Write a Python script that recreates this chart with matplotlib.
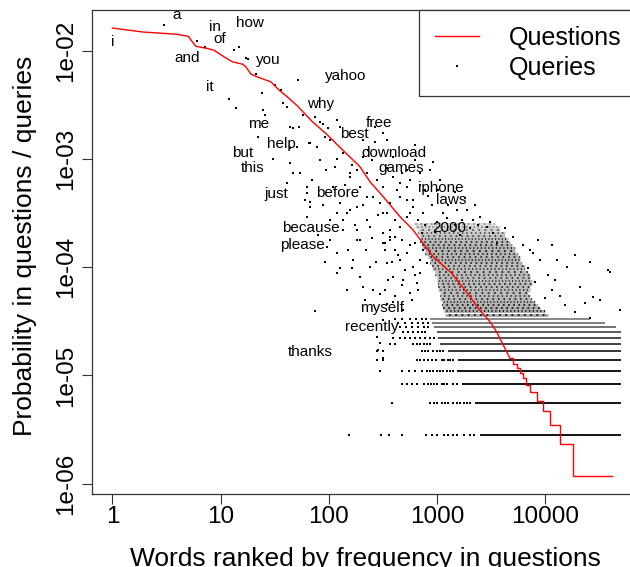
import matplotlib
matplotlib.use("Agg")
import matplotlib.pyplot as plt
from matplotlib.lines import Line2D
from matplotlib.ticker import NullLocator

plt.rcParams['font.family'] = ['Liberation Sans', 'DejaVu Sans']
plt.rcParams['lines.scale_dashes'] = False

# ---------------------------------------------------------------
# Questions: rank / probability curve
# ---------------------------------------------------------------
q_rank = [1, 1.9, 3.9, 5.0, 5.9, 7.5, 8.7, 10.8, 12.9, 16, 17.1, 19.1, 21.8,
          29.2, 34.8, 43, 51.4, 70.7, 94, 134, 194, 240, 318, 455, 600, 923,
          1365, 1813, 2493, 3084, 3556, 4093, 4720]
q_prob = [0.0162, 0.0149, 0.0142, 0.0136, 0.0110, 0.0105, 0.0101, 0.00877,
          0.00788, 0.0075, 0.0071, 0.00607, 0.00573, 0.00515, 0.00432, 0.00362,
          0.00308, 0.0022, 0.00172, 0.00121, 0.000848, 0.000617, 0.000448,
          0.000293, 0.000221, 0.000125, 8.8e-5, 6.15e-5, 4.0e-5, 3.14e-5,
          2.53e-5, 1.91e-5, 1.44e-5]
# tail of the curve, where counts become small integers (staircase)
step_rank = [4720, 5060, 5450, 5840, 6200, 6600, 7220, 8330, 9590, 11050,
             13660, 18150, 41000]
step_prob = [1.44e-5, 1.29e-5, 1.17e-5, 1.05e-5, 9.4e-6, 8.2e-6, 7.0e-6,
             5.85e-6, 4.7e-6, 3.5e-6, 2.34e-6, 1.17e-6, 1.17e-6]

# ---------------------------------------------------------------
# Queries: low count levels (solid rows of points)
# ---------------------------------------------------------------
lvl_prob = [2.79e-6, 5.57e-6, 8.36e-6, 1.11e-5, 1.39e-5, 1.67e-5, 1.95e-5,
            2.23e-5, 2.51e-5, 2.79e-5, 3.06e-5, 3.34e-5]
lvl_start = [2493, 2240, 1690, 1520, 1550, 1260, 1065, 1015, 990, 930, 890, 861]
lvl_end = [50000, 50000, 50000, 50000, 50000, 50000, 50000, 50000, 50000,
           45000, 36000, 26000]
lvl_density = [1, 1, 1, 1, 0.95, 0.85, 0.8, 0.75, 0.7, 0.6, 0.55, 0.5]
# isolated points on each level, left of the solid run
lvl_dots = [
    [154, 305, 361, 476, 795, 902, 990, 1170, 1270, 1410, 1540, 1760, 2015, 2190],
    [387, 861, 930, 990, 1120, 1190, 1260, 1410, 1520, 1630, 1760, 1880, 2015],
    [470, 525, 585, 650, 750, 825, 880, 940, 1000, 1110, 1170, 1230, 1410, 1520],
    [297, 470, 545, 625, 720, 805, 861, 920, 1000, 1065, 1130, 1230, 1318, 1410],
    [277, 319, 650, 697, 755, 825, 898, 985, 1100, 1160, 1260, 1318, 1410],
    [277, 319, 720, 774, 825, 920, 1000, 1065, 1130],
    [367, 409, 604, 650, 697, 755, 805, 861],
    [394, 455, 505, 562, 626, 697, 774, 861, 930],
    [487, 540, 600, 671, 726, 774],
    [455, 515, 585, 671, 755, 825],
    [437, 505, 585, 671, 740, 825],
    [409, 474, 562, 640, 726, 790],
]

# Queries: dense core of the cloud (rows of many points)
core_prob = [2.51e-4, 2.35e-4, 2.21e-4, 2.07e-4, 1.94e-4, 1.82e-4, 1.71e-4,
             1.60e-4, 1.50e-4, 1.41e-4, 1.32e-4, 1.24e-4, 1.16e-4, 1.09e-4,
             1.03e-4, 9.6e-5, 9.0e-5, 8.5e-5, 7.9e-5, 7.4e-5, 7.0e-5, 6.6e-5,
             6.15e-5, 5.77e-5, 5.4e-5, 5.1e-5, 4.8e-5, 4.5e-5, 4.2e-5, 3.9e-5,
             3.62e-5]
core_start = [626, 626, 667, 667, 697, 697, 697, 726, 726, 774, 774, 825, 861,
              861, 898, 898, 957, 957, 1000, 1000, 1020, 1020, 1020, 1065, 1065,
              1065, 1110, 1110, 1130, 1160, 1180]
core_end = [3430, 3814, 3814, 4250, 4250, 4520, 4720, 4920, 5250, 5250, 5600,
            5836, 5836, 6100, 6500, 6500, 6920, 7220, 7220, 7530, 7530, 7220,
            7220, 6920, 7220, 7530, 8030, 8570, 8930, 9930, 10600]
core_density = [0.25, 0.3, 0.35, 0.4, 0.45, 0.5, 0.5, 0.55, 0.55, 0.55, 0.55,
                0.55, 0.55, 0.5, 0.5, 0.5, 0.5, 0.5, 0.5, 0.5, 0.5, 0.5, 0.5,
                0.5, 0.5, 0.55, 0.55, 0.55, 0.6, 0.6, 0.6]

# Queries: scattered points of the cloud
cloud_rank = [3.0, 6.0, 7.2, 13.3, 14.9, 17.1, 17.9, 21.1, 24, 31.8,
              36, 52, 12, 13.8, 24.8, 25.7, 38, 40.8, 43.8, 47,
              53.4, 58, 74.6, 83, 89, 99, 118, 22.3, 43.8, 50.5,
              67, 77, 92, 103, 30.7, 43.8, 47, 40.8, 54, 118,
              114, 136, 157, 181, 208, 249, 267, 319, 60, 62.5,
              67, 89, 103, 118, 146, 181, 194, 224, 136, 103,
              181, 240, 319, 367, 424, 471, 524, 343, 394, 319,
              367, 455, 562, 604, 96, 118, 65, 83, 62.5, 67,
              110, 127, 157, 208, 136, 175, 62.5, 224, 258, 297,
              343, 367, 409, 330, 455, 394, 524, 604, 455, 524,
              671, 747, 923, 893, 1142, 1518, 1879, 2163, 2493, 2877,
              3310, 127, 208, 343, 267, 157, 224, 524, 695, 277,
              319, 39550, 20900, 15770, 12740, 7220, 5060, 3556, 27700, 48900,
              38200, 7700, 118, 127, 167, 194, 240, 297, 343, 392,
              256, 146, 208, 316, 277, 297, 285, 316, 74.6, 330,
              380, 437, 505, 562, 355, 474, 409, 587, 671, 480,
              626, 697, 273, 221, 182, 251, 8930, 10600, 8030, 11530,
              13660, 9930, 6920, 6220, 8570, 15200, 18800, 25860, 32000, 23300,
              12300, 4250, 774, 1000, 1236, 1465, 1700, 2015, 2415, 3084,
              957, 1630, 1262, 825, 1020, 1465, 1813, 2240, 697, 625,
              319, 367, 409, 343, 455, 524, 604, 394, 487, 650,
              330, 562, 697, 747, 805, 470, 626, 720, 70, 94,
              141, 164, 230, 284, 409, 194, 150, 80, 92, 164,
              215, 562, 774, 1065, 861, 625, 11600, 18800, 25860]
cloud_prob = [0.0173, 0.0124, 0.0109, 0.0101, 0.0109, 0.0086, 0.0084, 0.0061, 0.0041, 0.0048,
              0.00434, 0.00536, 0.00358, 0.00294, 0.00283, 0.00255, 0.00327, 0.00304, 0.00199, 0.00192,
              0.00199, 0.00255, 0.00243, 0.00221, 0.0021, 0.00192, 0.00229, 0.0016, 0.00125, 0.0013,
              0.0014, 0.0013, 0.0016, 0.0015, 0.00099, 0.00091, 0.00074, 0.000595, 0.00074, 0.00101,
              0.00085, 0.00113, 0.00074, 0.00079, 0.00105, 0.00098, 0.00144, 0.00173, 0.000418, 0.000482,
              0.000362, 0.000376, 0.000273, 0.000315, 0.000315, 0.000362, 0.000555, 0.000448, 0.000221, 0.000178,
              0.000221, 0.000237, 0.000315, 0.000389, 0.000517, 0.00074, 0.000555, 0.00082, 0.00105, 0.000206,
              0.000178, 0.000237, 0.000315, 0.000418, 0.000155, 0.000134, 0.0014, 0.00098, 0.000555, 0.000403,
              0.000555, 0.000389, 0.000338, 0.000376, 0.000273, 0.000245, 0.000293, 0.000273, 0.000448, 0.000389,
              0.000315, 0.000221, 0.000191, 0.000166, 0.000595, 0.000685, 0.000418, 0.000362, 0.000448, 0.000293,
              0.000273, 0.000315, 0.000944, 0.000376, 0.000315, 0.000338, 0.000338, 0.000273, 0.000293, 0.000237,
              0.000206, 0.00199, 0.0015, 0.0015, 0.00199, 0.000685, 0.00074, 0.00079, 0.00074, 0.00064,
              0.000555, 9.1e-5, 6.6e-5, 1.01e-4, 1.16e-4, 1.44e-4, 1.91e-4, 1.66e-4, 5.3e-5, 4.0e-5,
              9.4e-5, 1.35e-4, 8.8e-5, 9.8e-5, 1.16e-4, 8.2e-5, 1.01e-4, 5.7e-5, 4.6e-5, 4.8e-5,
              6.2e-5, 6.2e-5, 6.6e-5, 3.25e-5, 2.28e-5, 1.98e-5, 1.72e-5, 1.45e-5, 3.9e-5, 1.44e-4,
              1.12e-4, 1.30e-4, 9.4e-5, 1.6e-4, 7.6e-5, 6.85e-5, 5.4e-5, 5.0e-5, 6.2e-5, 4.0e-5,
              8.5e-5, 1.17e-4, 1.12e-4, 1.44e-4, 1.78e-4, 1.86e-4, 1.17e-4, 8.5e-5, 7.3e-5, 6.2e-5,
              5.4e-5, 5.2e-5, 9.8e-5, 1.6e-4, 1.78e-4, 4.48e-5, 3.86e-5, 3.4e-5, 5.0e-5, 4.68e-5,
              7.6e-5, 2.3e-4, 2.45e-4, 2.6e-4, 2.85e-4, 2.45e-4, 2.73e-4, 2.3e-4, 2.45e-4, 2.6e-4,
              2.11e-4, 1.98e-4, 3.75e-4, 4.55e-4, 5.17e-4, 4.95e-4, 4.35e-4, 3.75e-4, 5.74e-4, 9.8e-4,
              1.66e-4, 1.91e-4, 1.44e-4, 1.09e-4, 1.16e-4, 1.35e-4, 1.01e-4, 8.2e-5, 7.6e-5, 7.1e-5,
              6.2e-5, 5.8e-5, 8.8e-5, 1.44e-4, 1.09e-4, 1.78e-4, 1.66e-4, 2.06e-4, 6.4e-4, 7.9e-4,
              5.74e-4, 8.8e-4, 1.21e-3, 3.05e-4, 2.73e-4, 1.78e-4, 1.44e-4, 1.98e-4, 1.12e-4, 9.8e-5,
              5.0e-5, 6.4e-4, 5.17e-4, 6.4e-4, 7.9e-4, 1.35e-3, 1.6e-4, 1.30e-4, 1.12e-4]

# labelled words (placed at their query point)
words = ["i", "a", "in", "of", "how", "and", "you", "it", "yahoo", "why",
         "me", "free", "best", "help", "but", "download", "games", "this",
         "just", "before", "iphone", "laws", "because", "2000", "please",
         "myself", "recently", "thanks"]
word_rank = [1, 3.9, 8.9, 9.9, 18.7, 4.9, 27.6, 7.9, 142, 84.5,
             22.4, 290, 173, 36.1, 16, 402, 463, 19.7,
             32.5, 120, 1084, 1340, 68, 1294, 57,
             313, 250, 67]
word_prob = [0.0121, 0.0213, 0.0164, 0.0127, 0.018, 0.0086, 0.0082, 0.0046, 0.0058, 0.0032,
             0.0021, 0.00214, 0.0017, 0.00137, 0.00114, 0.00113, 0.00083, 0.00083,
             0.000475, 0.000488, 0.000535, 0.000418, 0.000232, 0.000229, 0.000161,
             4.2e-5, 2.8e-5, 1.64e-5]

series_names = ["Questions", "Queries"]
x_ticks = [1, 10, 100, 1000, 10000]
x_tick_labels = ["1", "10", "100", "1000", "10000"]
y_ticks = [1e-6, 1e-5, 1e-4, 1e-3, 1e-2]
y_tick_labels = ["1e-06", "1e-05", "1e-04", "1e-03", "1e-02"]

# ---------------------------------------------------------------
# plot
# ---------------------------------------------------------------
axis_col = '#333333'
# broken dot runs laid over a grey base so the dense rows look speckled
speckle = [(0.0, (1.2, 2.6)), (0.9, (0.9, 1.8)), (1.7, (1.4, 3.1)),
           (0.4, (1.0, 2.2)), (2.3, (1.1, 2.9)), (1.2, (0.8, 1.6)),
           (0.6, (1.3, 2.4))]

fig = plt.figure(figsize=(6.3, 5.67), dpi=100)
ax = fig.add_axes([0.1465, 0.1293, 0.8725, 0.8536])
ax.set_xscale('log')
ax.set_yscale('log')
ax.set_xlim(10 ** -0.186, 10 ** 4.894)
ax.set_ylim(10 ** -6.092, 10 ** -1.621)

# queries
for i, (p, x0, x1, d) in enumerate(zip(core_prob, core_start, core_end, core_density)):
    ax.hlines(p, x0, x1, color='black', lw=2.1, alpha=0.55 * d, zorder=1)
    ax.hlines(p, x0, x1, color='black', lw=1.3, alpha=min(1.0, 1.5 * d),
              linestyles=[speckle[i % len(speckle)]], zorder=1)
for p, x0, x1, d in zip(lvl_prob, lvl_start, lvl_end, lvl_density):
    ax.hlines(p, x0, x1, color='black', lw=1.3, alpha=d, zorder=1)
for p, ranks in zip(lvl_prob, lvl_dots):
    ax.plot(ranks, [p] * len(ranks), 's', ms=1.5, mew=0, color='black', zorder=1)
ax.plot(cloud_rank, cloud_prob, 's', ms=1.5, mew=0, color='black', zorder=1)

# questions
ax.plot(q_rank, q_prob, color='red', lw=1.0, zorder=3)
ax.plot(step_rank, step_prob, color='red', lw=1.0, drawstyle='steps-post', zorder=3)

for w, r, p in zip(words, word_rank, word_prob):
    ax.text(r, p, w, ha='center', va='center', fontsize=11, zorder=4)

ax.set_xticks(x_ticks)
ax.set_xticklabels(x_tick_labels)
ax.set_yticks(y_ticks)
ax.set_yticklabels(y_tick_labels, rotation=90, va='center')
ax.xaxis.set_minor_locator(NullLocator())
ax.yaxis.set_minor_locator(NullLocator())
ax.tick_params(direction='out', length=7.2, width=0.8, color=axis_col, labelsize=17.5)
ax.tick_params(axis='y', pad=3.5)
ax.tick_params(axis='x', pad=1.5)
for s in ax.spines.values():
    s.set_color(axis_col)
    s.set_linewidth(0.9)

ax.set_xlabel("Words ranked by frequency in questions", fontsize=19)
ax.set_ylabel("Probability in questions / queries", fontsize=19)
ax.xaxis.label.set_va('center')
ax.xaxis.set_label_coords(0.497, -0.134)
ax.yaxis.label.set_va('center')
ax.yaxis.label.set_ha('center')
ax.yaxis.set_label_coords(-0.1224, 0.513)

handles = [Line2D([], [], color='red', lw=1.0),
           Line2D([], [], ls='none', marker='s', ms=1.5, mew=0, color='black')]
leg = ax.legend(handles, series_names, loc='upper right', bbox_to_anchor=(0.993, 1.0),
                fontsize=18, frameon=True, fancybox=False, edgecolor=axis_col,
                framealpha=1, borderpad=0.65, handlelength=1.75, handletextpad=1.2,
                labelspacing=0.24, borderaxespad=0)
leg.get_frame().set_linewidth(0.9)

fig.savefig('out.png', dpi=100)
